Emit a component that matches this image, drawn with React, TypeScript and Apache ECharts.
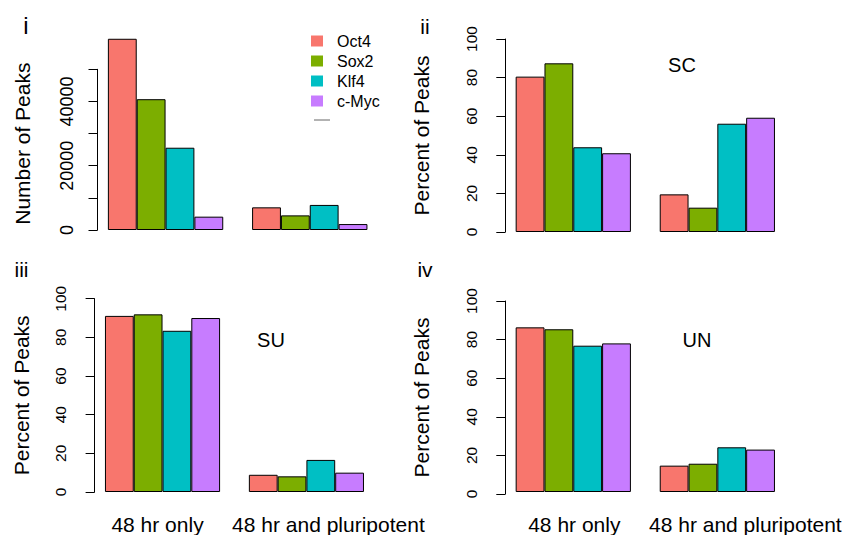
import React, { useEffect, useRef } from 'react';
import * as echarts from 'echarts';

const FONT = '"Liberation Sans", Arial, Helvetica, sans-serif';

// Transcription factors (series) and peak groups (categories)
const genes = ['Oct4', 'Sox2', 'Klf4', 'c-Myc'];
const categories = ['48 hr only', '48 hr and pluripotent'];
const geneColors = ['#F8766D', '#7CAE00', '#00BFC4', '#C77CFF'];

// Panel i: number of peaks, one row per gene: [48 hr only, 48 hr and pluripotent]
const peakCounts = [
  [59500, 7050],
  [40700, 4550],
  [25600, 7800],
  [4150, 1850],
];

// Panels ii-iv: percent of peaks per gene
const pctSC = [
  [80.5, 19.5],
  [87.4, 12.6],
  [43.9, 56.1],
  [40.8, 59.2],
];
const pctSU = [
  [91.1, 8.9],
  [91.9, 8.1],
  [83.4, 16.6],
  [90.0, 10.0],
];
const pctUN = [
  [86.2, 13.8],
  [85.2, 14.8],
  [76.6, 23.4],
  [77.8, 22.2],
];

type Layout = {
  axisX: number;
  unit: number;
  axisTop: number;
  zeroY: number;
  axisMax: number;
  barMax: number;
  interval: number;
  labelStep: number;
  tickFont: number;
  tickMargin: number;
  title: string;
  nameGap: number;
  nameShift: number;
  showCats: boolean;
  catShift: [number, number];
};

const panels: { layout: Layout; values: number[][] }[] = [
  {
    values: peakCounts,
    layout: {
      axisX: 97.5, unit: 28.84, axisTop: 69.3, zeroY: 230, axisMax: 50000, barMax: 60000,
      interval: 10000, labelStep: 20000, tickFont: 18, tickMargin: 22,
      title: 'Number of Peaks', nameGap: 65, nameShift: 6, showCats: false, catShift: [0, 0],
    },
  },
  {
    values: pctSC,
    layout: {
      axisX: 505.3, unit: 28.81, axisTop: 39, zeroY: 232, axisMax: 100, barMax: 100,
      interval: 20, labelStep: 20, tickFont: 15.5, tickMargin: 26,
      title: 'Percent of Peaks', nameGap: 73, nameShift: 0, showCats: false, catShift: [0, 0],
    },
  },
  {
    values: pctSU,
    layout: {
      axisX: 94.6, unit: 28.78, axisTop: 298.7, zeroY: 492, axisMax: 100, barMax: 100,
      interval: 20, labelStep: 20, tickFont: 15.5, tickMargin: 26,
      title: 'Percent of Peaks', nameGap: 63, nameShift: 0, showCats: true, catShift: [-5, 22],
    },
  },
  {
    values: pctUN,
    layout: {
      axisX: 505.3, unit: 28.81, axisTop: 301, zeroY: 494, axisMax: 100, barMax: 100,
      interval: 20, labelStep: 20, tickFont: 15.5, tickMargin: 26,
      title: 'Percent of Peaks', nameGap: 73, nameShift: 0, showCats: true, catShift: [1, 28],
    },
  },
];

function shiftPadding(s: number) {
  return s >= 0 ? [0, 0, 0, 2 * s] : [0, -2 * s, 0, 0];
}

function buildOption() {
  const grid: any[] = [];
  const xAxis: any[] = [];
  const yAxis: any[] = [];
  const series: any[] = [];

  panels.forEach(({ layout: L, values }) => {
    // grid holding only the visible y axis (drawn from 0 to the last tick)
    const ai = grid.length;
    grid.push({ left: L.axisX, top: L.axisTop, width: 1, height: L.zeroY - L.axisTop });
    xAxis.push({ gridIndex: ai, type: 'value', show: false, min: 0, max: 1 });
    yAxis.push({
      gridIndex: ai,
      type: 'value',
      min: 0,
      max: L.axisMax,
      interval: L.interval,
      axisLine: { show: true, lineStyle: { color: '#000', width: 1 } },
      axisTick: { show: true, length: 9, lineStyle: { color: '#000', width: 1 } },
      splitLine: { show: false },
      axisLabel: {
        rotate: 90,
        margin: L.tickMargin,
        fontSize: L.tickFont,
        fontFamily: FONT,
        color: '#000',
        formatter: (v: number) => (v % L.labelStep === 0 ? String(v) : ''),
      },
      name: L.title,
      nameLocation: 'middle',
      nameGap: L.nameGap,
      nameTextStyle: {
        fontSize: 21,
        fontFamily: FONT,
        color: '#000',
        padding: shiftPadding(L.nameShift),
      },
    });

    // grid holding the bars, sharing the same value scale
    const bi = grid.length;
    const barTop = L.zeroY - ((L.zeroY - L.axisTop) * L.barMax) / L.axisMax;
    grid.push({
      left: L.axisX - 0.14 * L.unit,
      top: barTop,
      width: 10 * L.unit,
      height: L.zeroY - barTop,
    });
    xAxis.push({
      gridIndex: bi,
      type: 'category',
      data: categories.map((c, k) => ({
        value: c,
        textStyle: { padding: shiftPadding(L.catShift[k]) },
      })),
      axisLine: { show: false },
      axisTick: { show: false },
      axisLabel: {
        show: L.showCats,
        interval: 0,
        fontSize: 21,
        fontFamily: FONT,
        color: '#000',
        margin: 22,
      },
    });
    yAxis.push({ gridIndex: bi, type: 'value', min: 0, max: L.barMax, show: false });

    genes.forEach((g, k) => {
      series.push({
        type: 'bar',
        name: g,
        xAxisIndex: bi,
        yAxisIndex: bi,
        data: values[k],
        barGap: '0%',
        barCategoryGap: '20%',
        itemStyle: { color: geneColors[k], borderColor: '#000', borderWidth: 1 },
      });
    });
  });

  const label = (text: string, x: number, baseline: number, size: number) => ({
    type: 'text',
    x,
    y: baseline - 0.35 * size,
    style: {
      text,
      font: `${size}px ${FONT}`,
      fill: '#000',
      textAlign: 'center',
      textVerticalAlign: 'middle',
    },
  });

  return {
    animation: false,
    backgroundColor: '#fff',
    color: geneColors,
    grid,
    xAxis,
    yAxis,
    series,
    legend: {
      data: genes,
      orient: 'vertical',
      left: 306,
      top: 28,
      icon: 'rect',
      itemWidth: 12,
      itemHeight: 11,
      itemGap: 4,
      selectedMode: false,
      itemStyle: { borderWidth: 0 },
      textStyle: { fontSize: 16, fontFamily: FONT, color: '#000', padding: [0, 0, 0, 9] },
    },
    graphic: [
      label('i', 26, 34, 24),
      label('ii', 425, 34, 21),
      label('iii', 21.5, 277, 21),
      label('iv', 425, 277, 21),
      label('SC', 682, 71.7, 20),
      label('SU', 271, 346.7, 20),
      label('UN', 697, 346.7, 20),
      {
        type: 'line',
        shape: { x1: 314, y1: 120, x2: 330, y2: 120 },
        style: { stroke: '#666', lineWidth: 1 },
      },
    ],
  };
}

export default function App() {
  const ref = useRef<HTMLDivElement>(null);
  useEffect(() => {
    if (!ref.current) return;
    const chart = echarts.init(ref.current, undefined, { renderer: 'svg' });
    chart.setOption(buildOption() as any);
    return () => chart.dispose();
  }, []);
  return (
    <div
      ref={ref}
      style={{ position: 'absolute', left: 0, top: 0, width: 850, height: 535, background: '#fff' }}
    />
  );
}
